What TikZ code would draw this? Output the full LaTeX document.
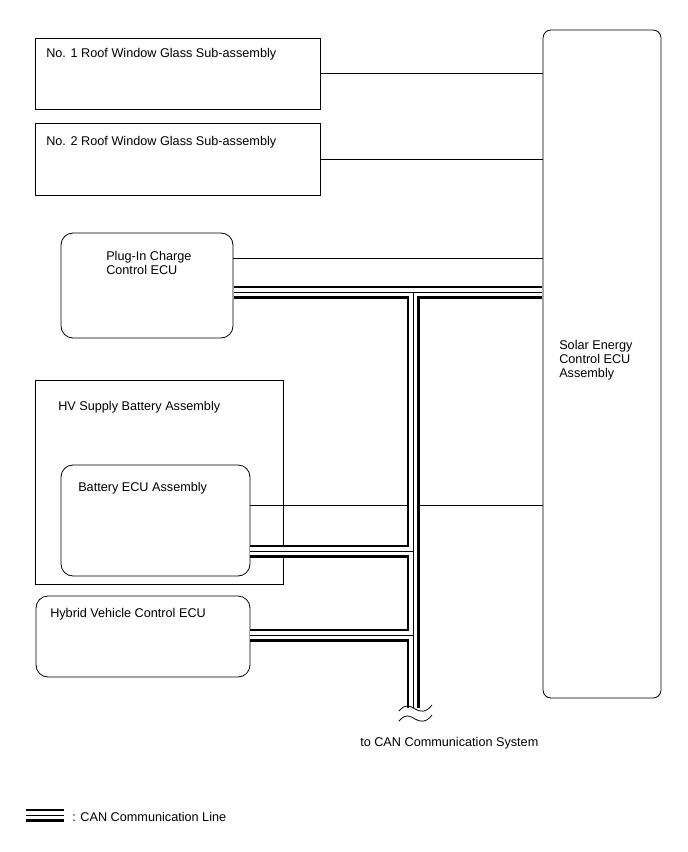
\documentclass[tikz,border=0pt]{standalone}
\usepackage{fontspec}
\setmainfont{Liberation Sans}
\usetikzlibrary{fit}

\begin{document}
\begin{tikzpicture}[x=0.75pt,y=-0.75pt,
  box/.style={draw,line width=0.6pt,inner sep=0pt},
  ecu/.style={box,rounded corners=9pt},
  txt/.style={inner sep=0pt,anchor=base west,align=left,font=\fontsize{9.5}{10.5}\selectfont},
  wire/.style={line width=0.6pt},
  canblack/.style={line width=9.75pt},
  canwhite/.style={line width=6pt,white},
  canmid/.style={line width=0.75pt}]
\useasboundingbox (0,0) rectangle (688,852);
% Boxes
\node[box,fit={(35,38) (320,109)}] (roof1) {};
\node[box,fit={(35,123) (320,195)}] (roof2) {};
\node[box,rounded corners=6pt,fit={(543,30) (661,698)}] (solar) {};
\node[ecu,fit={(61,233) (233,338)}] (plug) {};
\node[box,fit={(35,380) (283,584)}] (hvbatt) {};
\node[ecu,fit={(61,465) (250,576)}] (battecu) {};
\node[ecu,fit={(36,596) (250,677)}] (hvecu) {};
% Labels (base = last line)
\node[txt] (roof1t) at (46,58) {No. 1 Roof Window Glass Sub-assembly};
\node[txt] (roof2t) at (46,146) {No. 2 Roof Window Glass Sub-assembly};
\node[txt] (plugt) at (106,274) {Plug-In Charge\\Control ECU};
\node[txt] (hvbattt) at (58,410) {HV Supply Battery Assembly};
\node[txt] (battecut) at (78,491) {Battery ECU Assembly};
\node[txt] (hvecut) at (50,617) {Hybrid Vehicle Control ECU};
\node[txt] (solart) at (559,377) {Solar Energy\\Control ECU\\Assembly};
\node[txt] (cant) at (360,746) {to CAN Communication System};
% Signal lines
\draw[wire] (roof1.east) -- (roof1.east -| solar.west);
\draw[wire] (roof2.east) -- (roof2.east -| solar.west);
\draw[wire] (plug.east |- 0,258) -- (solar.west |- 0,258);
\draw[wire] (battecu.east |- 0,505) -- (solar.west |- 0,505);
% CAN bus
\coordinate (j1) at (413,292);
\coordinate (j2) at (413,551);
\coordinate (j3) at (413,635);
\coordinate (busend) at (413,708);
\foreach \layer in {canblack,canwhite,canmid}
  \draw[\layer] ([xshift=0.3pt]plug.east |- j1) -- ([xshift=-0.3pt]solar.west |- j1)
    (j1) -- (busend)
    (battecu.east |- j2) -- (j2)
    (hvecu.east |- j3) -- (j3);
% Break marks
\fill[white] (398,708) rectangle (432,716);
\draw[wire] (399,711) .. controls (406,703) and (410,706) .. (415,709)
  .. controls (420,712) and (426,713) .. (432,705);
\draw[wire] (399,721) .. controls (406,713) and (410,716) .. (415,719)
  .. controls (420,722) and (426,723) .. (432,715);
% Legend
\coordinate (lega) at (26,815);
\coordinate (legb) at (64,815);
\foreach \layer in {canblack,canwhite,canmid}
  \draw[\layer] (lega) -- (legb);
\node[txt] (legt) at (72,821) {: CAN Communication Line};
\end{tikzpicture}
\end{document}
